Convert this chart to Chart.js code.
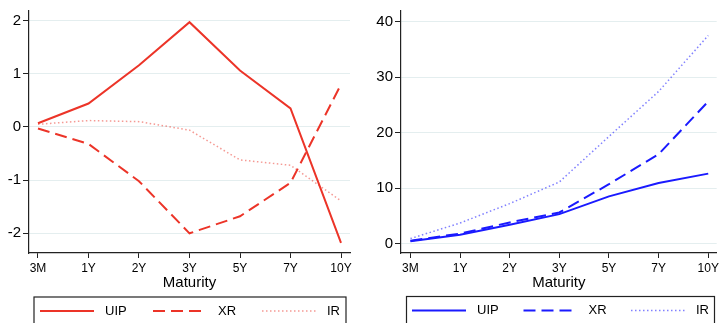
<!DOCTYPE html>
<html lang="en">
<head>
    <meta charset="UTF-8">
    <title>Maturity</title>
    <style>
        body { margin: 0; width: 722px; height: 323px; overflow: hidden; background: #fff; }
        .panel { position: absolute; top: 0; width: 361px; height: 340px; }
    </style>
</head>
<body>
    <div class="panel" style="left:0"><canvas id="leftChart" width="361" height="340"></canvas></div>
    <div class="panel" style="left:361px"><canvas id="rightChart" width="361" height="340"></canvas></div>

    <script src="https://cdn.jsdelivr.net/npm/chart.js"></script>

    <script>
        // maturities on the x axis
        const maturities = ['3M', '1Y', '2Y', '3Y', '5Y', '7Y', '10Y'];
        const seriesNames = ['UIP', 'XR', 'IR'];

        // left panel (red)
        const leftUIP = [0.07, 0.44, 1.16, 1.97, 1.06, 0.35, -2.18];
        const leftXR  = [-0.03, -0.32, -1.02, -2.0, -1.68, -1.05, 0.80];
        const leftIR  = [0.05, 0.12, 0.10, -0.06, -0.62, -0.72, -1.39];
        const leftTicks = [-2, -1, 0, 1, 2];

        // right panel (blue)
        const rightUIP = [0.4, 1.6, 3.4, 5.3, 8.5, 10.9, 12.6];
        const rightXR  = [0.5, 1.8, 3.8, 5.6, 10.7, 16.1, 25.6];
        const rightIR  = [0.9, 3.7, 7.2, 11.1, 19.3, 27.4, 37.5];
        const rightTicks = [0, 10, 20, 30, 40];

        Chart.defaults.font.family = '"Liberation Sans", Arial, sans-serif';
        Chart.defaults.color = '#000';

        // legend drawn as a framed box like Stata does
        const boxLegend = {
            id: 'boxLegend',
            afterDraw(chart, args, opts) {
                const ctx = chart.ctx;
                ctx.save();
                ctx.strokeStyle = '#222';
                ctx.lineWidth = 1.2;
                ctx.strokeRect(opts.left, opts.top, opts.right - opts.left, 60);
                chart.data.datasets.forEach((ds, i) => {
                    const x = opts.left + opts.offsets[i];
                    ctx.strokeStyle = ds.borderColor;
                    ctx.lineWidth = ds.borderWidth;
                    ctx.setLineDash(ds.borderDash || []);
                    ctx.beginPath();
                    ctx.moveTo(x, opts.y);
                    ctx.lineTo(x + 54, opts.y);
                    ctx.stroke();
                    ctx.setLineDash([]);
                    ctx.fillStyle = '#000';
                    ctx.font = '13px "Liberation Sans", Arial, sans-serif';
                    ctx.textBaseline = 'middle';
                    ctx.fillText(ds.label, x + 65, opts.y);
                });
                ctx.restore();
            }
        };

        function toPoints(values) {
            return values.map((v, i) => ({ x: i, y: v }));
        }

        function makeChart(id, color, paleColor, series, yTicks, yMin, yMax, xMin, xMax, axisWidth, padRight, legendOpts) {
            const styles = [
                { borderWidth: 2, borderDash: [] },
                { borderWidth: 2, borderDash: [12, 6] },
                { borderWidth: 1.5, borderDash: [1.5, 2.5], borderColor: paleColor },
            ];
            return new Chart(document.getElementById(id), {
                type: 'line',
                data: {
                    datasets: series.map((vals, i) => ({
                        label: seriesNames[i],
                        data: toPoints(vals),
                        borderColor: styles[i].borderColor || color,
                        borderWidth: styles[i].borderWidth,
                        borderDash: styles[i].borderDash,
                        pointRadius: 0,
                        tension: 0,
                        fill: false,
                    }))
                },
                options: {
                    responsive: false,
                    animation: false,
                    layout: { padding: { top: 6, left: 0, right: padRight, bottom: 47 } },
                    plugins: {
                        legend: { display: false },
                        tooltip: { enabled: false },
                        boxLegend: legendOpts,
                    },
                    scales: {
                        x: {
                            type: 'linear',
                            min: xMin,
                            max: xMax,
                            afterBuildTicks: axis => { axis.ticks = maturities.map((m, i) => ({ value: i })); },
                            afterFit: axis => { axis.height = 40; },
                            ticks: {
                                autoSkip: false,
                                maxRotation: 0,
                                padding: 3,
                                font: { size: 12 },
                                callback: v => maturities[v],
                            },
                            grid: { drawOnChartArea: false, tickLength: 5, tickColor: '#222', tickWidth: 1 },
                            border: { color: '#222', width: 1.2 },
                            title: { display: true, text: 'Maturity', font: { size: 15 }, padding: { top: 0, bottom: 1 } },
                        },
                        y: {
                            min: yMin,
                            max: yMax,
                            afterBuildTicks: axis => { axis.ticks = yTicks.map(v => ({ value: v })); },
                            afterFit: axis => { axis.width = axisWidth; },
                            ticks: { padding: 2, font: { size: 15 } },
                            grid: { color: '#e4eeef', lineWidth: 1, tickLength: 6, tickColor: '#222' },
                            border: { color: '#222', width: 1.2 },
                        }
                    }
                },
                plugins: [boxLegend]
            });
        }

        makeChart('leftChart', '#ec3428', 'rgba(236, 52, 40, 0.5)',
            [leftUIP, leftXR, leftIR], leftTicks, -2.37, 2.18, -0.178, 6.178, 29, 11,
            { left: 34, right: 346, top: 297, y: 311, offsets: [6, 119, 228] });

        makeChart('rightChart', '#1a1aff', 'rgba(26, 26, 255, 0.55)',
            [rightUIP, rightXR, rightIR], rightTicks, -1.7, 41.9, -0.19, 6.17, 40, 3,
            { left: 45.5, right: 353.5, top: 296.5, y: 310.5, offsets: [5.5, 117, 224.5] });
    </script>
</body>
</html>
